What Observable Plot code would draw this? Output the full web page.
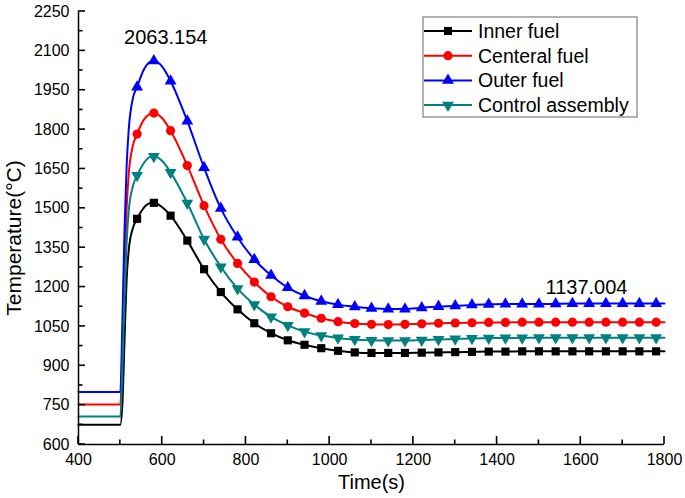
<!DOCTYPE html>
<html><head><meta charset="utf-8">
<script src="https://cdn.jsdelivr.net/npm/d3@7"></script>
<script src="https://cdn.jsdelivr.net/npm/@observablehq/plot@0.6"></script>
<style>
body{margin:0;background:#fff;font-family:"Liberation Sans",Arial,sans-serif;}
#wrap{position:relative;width:685px;height:498px;}
</style></head><body><div id="wrap"></div>
<script>
// ---- data ----
const time = [400, 500, 505, 510, 515, 520, 530, 540, 555, 570, 580, 600, 620, 660, 700, 740, 780, 820, 860, 900, 940, 980, 1020, 1060, 1100, 1140, 1180, 1220, 1260, 1300, 1340, 1380, 1420, 1460, 1500, 1540, 1580, 1620, 1660, 1700, 1740, 1780, 1800];
const innerFuel = [675, 675, 760, 1000, 1230, 1340, 1425, 1460, 1500, 1519, 1521, 1504, 1472, 1377, 1268, 1181, 1115, 1062, 1024, 997, 980, 967, 957, 951, 949, 949, 949, 950, 951, 952, 953, 954, 954, 955, 955, 955, 955, 955, 955, 955, 955, 955, 955];
const centralFuel = [752, 752, 980, 1280, 1500, 1630, 1740, 1783, 1835, 1859, 1863, 1843, 1796, 1663, 1510, 1382, 1290, 1219, 1163, 1125, 1101, 1081, 1068, 1061, 1058, 1057, 1058, 1060, 1062, 1063, 1064, 1065, 1065, 1066, 1066, 1066, 1066, 1066, 1066, 1066, 1066, 1066, 1066];
const outerFuel = [800, 800, 1080, 1420, 1660, 1800, 1920, 1962, 2025, 2057, 2062, 2040, 1985, 1832, 1655, 1500, 1390, 1305, 1245, 1198, 1167, 1146, 1133, 1125, 1119, 1116, 1116, 1121, 1126, 1128, 1132, 1134, 1135, 1135, 1135, 1136, 1137, 1137, 1137, 1137, 1137, 1137, 1137];
const controlAssembly = [707, 707, 900, 1170, 1370, 1490, 1585, 1625, 1670, 1695, 1698, 1680, 1637, 1520, 1382, 1277, 1194, 1133, 1086, 1054, 1030, 1015, 1006, 1000, 997, 996, 996, 998, 1000, 1002, 1004, 1005, 1006, 1006, 1007, 1007, 1007, 1007, 1007, 1007, 1007, 1007, 1007];
const seriesNames = ["Inner fuel", "Centeral fuel", "Outer fuel", "Control assembly"];
const seriesColors = ["#000000", "#ff0000", "#0000ff", "#008080"];
const xTicks = [400, 600, 800, 1000, 1200, 1400, 1600, 1800];
const xMinorTicks = [500, 700, 900, 1100, 1300, 1500, 1700];
const yTicks = [600, 750, 900, 1050, 1200, 1350, 1500, 1650, 1800, 1950, 2100, 2250];
const yMinorTicks = [675, 825, 975, 1125, 1275, 1425, 1575, 1725, 1875, 2025, 2175];
const peakNote = [{t: 575, v: 2063.154, label: "2063.154"}];
const endNote = [{t: 1800, v: 1137.004, label: "1137.004"}];

// ---- symbols ----
const triangleDown = {draw(ctx, size) {
  const s3 = Math.sqrt(3);
  const y = -Math.sqrt(size / (s3 * 3));
  ctx.moveTo(0, -y * 2); ctx.lineTo(-s3 * y, y); ctx.lineTo(s3 * y, y); ctx.closePath();
}};
const seriesSymbols = ["square", "circle", "triangle", triangleDown];
const seriesR = [4.6, 4.6, 4.4, 4.4];
const seriesValues = [innerFuel, centralFuel, outerFuel, controlAssembly];

const rows = [];
seriesNames.forEach((s, k) => time.forEach((t, i) => rows.push({s, t, v: seriesValues[k][i]})));
const isMarker = d => d.t >= 540 && d.t <= 1780 && (d.t - 540) % 40 === 0;

const W = 685, H = 498, mL = 78, mR = 21, mT = 11, mB = 54;

const marks = [];
marks.push(Plot.axisX(xTicks, {tickSize: 0, tickPadding: 9, tickFormat: "d", label: null, fontSize: 16}));
marks.push(Plot.axisY(yTicks, {tickSize: 0, tickPadding: 9, tickFormat: "d", label: null, fontSize: 16}));
seriesNames.forEach((s, k) => {
  const d = rows.filter(r => r.s === s);
  marks.push(Plot.line(d, {x: "t", y: "v", stroke: seriesColors[k], strokeWidth: 2, curve: "monotone-x"}));
});
seriesNames.forEach((s, k) => {
  const d = rows.filter(r => r.s === s && isMarker(r));
  marks.push(Plot.dot(d, {x: "t", y: "v", fill: seriesColors[k], stroke: "none", symbol: seriesSymbols[k], r: seriesR[k]}));
});
marks.push(Plot.ruleX([xTicks[0]], {stroke: "#000", strokeWidth: 1.5}));
marks.push(Plot.ruleY([yTicks[0]], {stroke: "#000", strokeWidth: 1.5}));
marks.push(Plot.text(peakNote, {x: "t", y: "v", text: "label", dx: 14, dy: -23, fontSize: 20}));
marks.push(Plot.text(endNote, {x: "t", y: "v", text: "label", dx: -78, dy: -16, fontSize: 20}));
marks.push(Plot.text(["Time(s)"], {frameAnchor: "bottom", dy: 44, fontSize: 20}));
marks.push(Plot.text(["Temperature(°C)"], {frameAnchor: "left", textAnchor: "middle", dx: -64, dy: 10, rotate: -90, fontSize: 21}));

const chart = Plot.plot({
  width: W, height: H, marginLeft: mL, marginRight: mR, marginTop: mT, marginBottom: mB,
  x: {domain: [400, 1800]},
  y: {domain: [600, 2250]},
  style: {fontFamily: "Liberation Sans, Arial, sans-serif", fontSize: "16px", color: "#000", background: "#fff", overflow: "visible"},
  marks
});
const wrap = document.getElementById("wrap");
wrap.appendChild(chart);

// ---- inward ticks, positioned with the chart's own scales ----
const sx = chart.scale("x"), sy = chart.scale("y");
const y0 = sy.apply(yTicks[0]), x0 = sx.apply(xTicks[0]);
const tg = d3.select(chart).append("g").attr("stroke", "#000").attr("stroke-width", 1.6);
xTicks.forEach(v => tg.append("line").attr("x1", sx.apply(v)).attr("x2", sx.apply(v)).attr("y1", y0).attr("y2", y0 - 8));
xMinorTicks.forEach(v => tg.append("line").attr("x1", sx.apply(v)).attr("x2", sx.apply(v)).attr("y1", y0).attr("y2", y0 - 4.5));
yTicks.forEach(v => tg.append("line").attr("y1", sy.apply(v)).attr("y2", sy.apply(v)).attr("x1", x0).attr("x2", x0 + 7));
yMinorTicks.forEach(v => tg.append("line").attr("y1", sy.apply(v)).attr("y2", sy.apply(v)).attr("x1", x0).attr("x2", x0 + 4.5));

// ---- legend (inside plot, top right) ----
const leg = d3.select(wrap).append("svg")
  .attr("width", 218).attr("height", 104)
  .style("position", "absolute").style("left", "421px").style("top", "15px")
  .style("font-family", "Liberation Sans, Arial, sans-serif");
leg.append("rect").attr("x", 2).attr("y", 2).attr("width", 214).attr("height", 100)
  .attr("fill", "#fff").attr("stroke", "#666").attr("stroke-width", 1);
const legSym = [d3.symbolSquare, d3.symbolCircle, d3.symbolTriangle, triangleDown];
seriesNames.forEach((s, k) => {
  const cy = 16 + k * 24.7;
  const g = leg.append("g").attr("transform", `translate(0,${cy})`);
  g.append("line").attr("x1", 3).attr("x2", 51).attr("y1", 0).attr("y2", 0)
    .attr("stroke", seriesColors[k]).attr("stroke-width", 2);
  g.append("path").attr("transform", "translate(27,0)")
    .attr("d", d3.symbol(legSym[k], Math.PI * seriesR[k] * seriesR[k])())
    .attr("fill", seriesColors[k]);
  g.append("text").attr("x", 57).attr("y", 0).attr("dy", "0.35em")
    .attr("font-size", 19.5).text(s);
});
</script>
</body></html>
